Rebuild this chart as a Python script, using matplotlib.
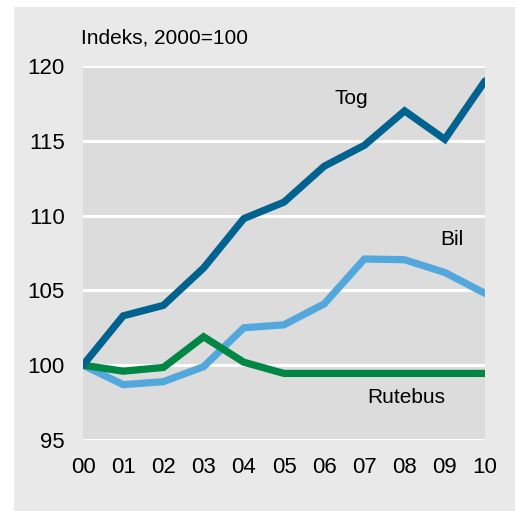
import matplotlib.pyplot as plt
from matplotlib.patches import Rectangle

# Data (index, 2000=100)
years = ["00", "01", "02", "03", "04", "05", "06", "07", "08", "09", "10"]
tog = [100, 103.3, 104.0, 106.5, 109.8, 110.9, 113.3, 114.7, 117.0, 115.1, 119.0]
bil = [100, 98.7, 98.9, 99.9, 102.5, 102.7, 104.1, 107.1, 107.05, 106.2, 104.8]
rutebus = [100, 99.6, 99.85, 101.9, 100.2, 99.45, 99.45, 99.45, 99.45, 99.45, 99.45]

plt.rcParams['font.family'] = ['Liberation Sans Narrow', 'Liberation Sans', 'DejaVu Sans']

fig = plt.figure(figsize=(5.17, 5.11), dpi=100)
fig.patch.set_facecolor("white")
# outer light grey panel
fig.patches.append(Rectangle((14 / 517, 0), 501 / 517, 1 - 7 / 511,
                             transform=fig.transFigure, facecolor="#e9e9e9",
                             edgecolor="none", zorder=-1))

ax = fig.add_axes([83 / 517, 1 - 440 / 511, 402 / 517, 374 / 511])
ax.set_zorder(2)
ax.set_facecolor("#dcdcdc")

x = list(range(len(years)))
lw = 5.2
ax.plot(x, bil, color="#52a8dd", lw=lw, solid_capstyle="round", solid_joinstyle="miter", zorder=3)
ax.plot(x, rutebus, color="#008745", lw=lw, solid_capstyle="round", solid_joinstyle="miter", zorder=4)
ax.plot(x, tog, color="#00628f", lw=lw, solid_capstyle="round", solid_joinstyle="miter", zorder=5)

ax.set_xlim(0, 10)
ax.set_ylim(95, 120)
ax.set_yticks(range(95, 121, 5))
ax.set_xticks(x)
ax.set_xticklabels(years)
ax.grid(axis="y", color="white", lw=2.2)
ax.set_axisbelow(True)
for s in ax.spines.values():
    s.set_visible(False)
ax.tick_params(length=0, labelsize=16, colors="black")
ax.tick_params(axis="y", pad=13)
ax.tick_params(axis="x", pad=12)

ax.text(6.67, 117.8, "Tog", fontsize=15, ha="center", va="center")
ax.text(9.18, 108.4, "Bil", fontsize=15, ha="center", va="center")
ax.text(8.03, 97.85, "Rutebus", fontsize=15, ha="center", va="center")

fig.text(81 / 517, 1 - 38 / 511, "Indeks, 2000=100", fontsize=15, ha="left", va="center")

fig.savefig("out.png", dpi=100)
